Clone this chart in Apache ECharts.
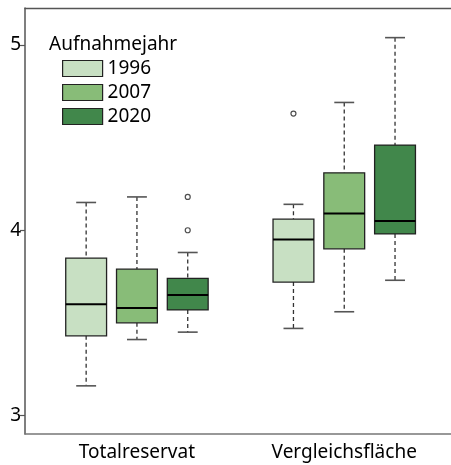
<!DOCTYPE html>
<html>
<head>
<meta charset="utf-8">
<script src="https://cdn.jsdelivr.net/npm/echarts@6/dist/echarts.min.js"></script>
<style>
  html, body { margin: 0; padding: 0; background: #fff; }
  #chart { width: 451px; height: 465px; }
</style>
</head>
<body>
<div id="chart"></div>
<script>
// Sites on the x axis
const categories = ['Totalreservat', 'Vergleichsfläche'];
// Survey years (one box per year inside each site)
const years = ['1996', '2007', '2020'];
const yearColors = ['#c8e0c3', '#88bc78', '#41874b'];

// Box statistics per year: [min, Q1, median, Q3, max] for each site
const stats1996 = [
  [3.16, 3.43, 3.60, 3.85, 4.15],
  [3.47, 3.72, 3.95, 4.06, 4.14]
];
const stats2007 = [
  [3.41, 3.50, 3.58, 3.79, 4.18],
  [3.56, 3.90, 4.09, 4.31, 4.69]
];
const stats2020 = [
  [3.45, 3.57, 3.65, 3.74, 3.88],
  [3.73, 3.98, 4.05, 4.46, 5.04]
];
// Outliers: [site index, value]
const outliers1996 = [[1, 4.63]];
const outliers2007 = [];
const outliers2020 = [[0, 4.18], [0, 4.00]];

// Y axis tick labels
const yTicks = [3, 4, 5];

const allStats = [stats1996, stats2007, stats2020];
const allOutliers = [outliers1996, outliers2007, outliers2020];

const FONT = 'Noto Sans';
const slotStep = 0.245;   // spacing between year boxes, in site units
const boxHalf = 0.0985;   // half box width, in site units
const capHalf = 0.048;    // half whisker cap width

function slotX(siteIdx, yearIdx) {
  return siteIdx + 1 + (yearIdx - 1) * slotStep;
}

function makeBoxSeries(yearIdx) {
  const data = allStats[yearIdx].map((s, i) => [slotX(i, yearIdx)].concat(s));
  return {
    type: 'custom',
    name: years[yearIdx],
    itemStyle: { color: yearColors[yearIdx], borderColor: '#222', borderWidth: 1.2 },
    data: data,
    renderItem: function (params, api) {
      const x = api.value(0);
      const vMin = api.value(1), q1 = api.value(2), med = api.value(3),
            q3 = api.value(4), vMax = api.value(5);
      const pL = api.coord([x - boxHalf, q3]);
      const pR = api.coord([x + boxHalf, q1]);
      const pMedL = api.coord([x - boxHalf, med]);
      const pMedR = api.coord([x + boxHalf, med]);
      const pTop = api.coord([x, vMax]);
      const pQ3 = api.coord([x, q3]);
      const pQ1 = api.coord([x, q1]);
      const pBot = api.coord([x, vMin]);
      const capL = api.coord([x - capHalf, vMax])[0];
      const capR = api.coord([x + capHalf, vMax])[0];
      const whiskerStyle = { stroke: '#333', lineWidth: 1.3, lineDash: [4, 3] };
      const capStyle = { stroke: '#555', lineWidth: 1.6 };
      return {
        type: 'group',
        children: [
          { type: 'line', shape: { x1: pTop[0], y1: pTop[1], x2: pQ3[0], y2: pQ3[1] }, style: whiskerStyle },
          { type: 'line', shape: { x1: pQ1[0], y1: pQ1[1], x2: pBot[0], y2: pBot[1] }, style: whiskerStyle },
          { type: 'line', shape: { x1: capL, y1: pTop[1], x2: capR, y2: pTop[1] }, style: capStyle },
          { type: 'line', shape: { x1: capL, y1: pBot[1], x2: capR, y2: pBot[1] }, style: capStyle },
          {
            type: 'rect',
            shape: { x: pL[0], y: pL[1], width: pR[0] - pL[0], height: pR[1] - pL[1] },
            style: { fill: yearColors[yearIdx], stroke: '#222', lineWidth: 1.3 }
          },
          { type: 'line', shape: { x1: pMedL[0], y1: pMedL[1], x2: pMedR[0], y2: pMedR[1] },
            style: { stroke: '#000', lineWidth: 2 } }
        ]
      };
    }
  };
}

function makeOutlierSeries(yearIdx) {
  return {
    type: 'scatter',
    name: 'out' + years[yearIdx],
    symbol: 'circle',
    symbolSize: 5,
    itemStyle: { color: '#fff', borderColor: '#222', borderWidth: 1.2 },
    data: allOutliers[yearIdx].map(o => [slotX(o[0], yearIdx), o[1]]),
    silent: true
  };
}

const series = [];
for (let k = 0; k < years.length; k++) series.push(makeBoxSeries(k));
for (let k = 0; k < years.length; k++) series.push(makeOutlierSeries(k));

// The plot frame is open on the right: the grid runs a little past the canvas edge.
const xMin = 0.46, xMax = 2.515;

const chart = echarts.init(document.getElementById('chart'), null, { renderer: 'canvas' });
chart.setOption({
  animation: false,
  backgroundColor: '#fff',
  textStyle: { fontFamily: FONT },
  title: {
    text: 'Aufnahmejahr',
    left: 44,
    top: 30,
    textStyle: { fontFamily: FONT, fontSize: 19, fontWeight: 'normal', color: '#000' }
  },
  legend: {
    orient: 'vertical',
    left: 57,
    top: 54,
    itemWidth: 40,
    itemHeight: 16,
    itemGap: 5,
    icon: 'rect',
    textStyle: { fontFamily: FONT, fontSize: 19, color: '#000' },
    data: years.map((y, i) => ({
      name: y,
      itemStyle: { color: yearColors[i], borderColor: '#222', borderWidth: 1.2 }
    })),
    selectedMode: false
  },
  grid: { left: 25, right: -3, top: 8, bottom: 31 },
  xAxis: [
    {
      type: 'value',
      min: xMin,
      max: xMax,
      axisLine: { show: true, onZero: false, lineStyle: { color: '#777', width: 1.5 } },
      axisTick: { show: false },
      splitLine: { show: false },
      axisLabel: {
        customValues: [1, 2],
        formatter: v => categories[Math.round(v) - 1] || '',
        fontFamily: FONT, fontSize: 19, color: '#000', margin: 9
      }
    },
    {
      type: 'value',
      position: 'top',
      min: xMin,
      max: xMax,
      axisLine: { show: true, onZero: false, lineStyle: { color: '#555', width: 1.3 } },
      axisTick: { show: false },
      axisLabel: { show: false },
      splitLine: { show: false }
    }
  ],
  yAxis: {
    type: 'value',
    min: 2.9,
    max: 5.2,
    axisLine: { show: true, onZero: false, lineStyle: { color: '#555', width: 1.5 } },
    axisTick: { show: true, customValues: yTicks, length: 5, lineStyle: { color: '#555', width: 1.2 } },
    splitLine: { show: false },
    axisLabel: {
      customValues: yTicks,
      fontFamily: FONT, fontSize: 19, color: '#000', margin: 4
    }
  },
  series: series
});
</script>
</body>
</html>
